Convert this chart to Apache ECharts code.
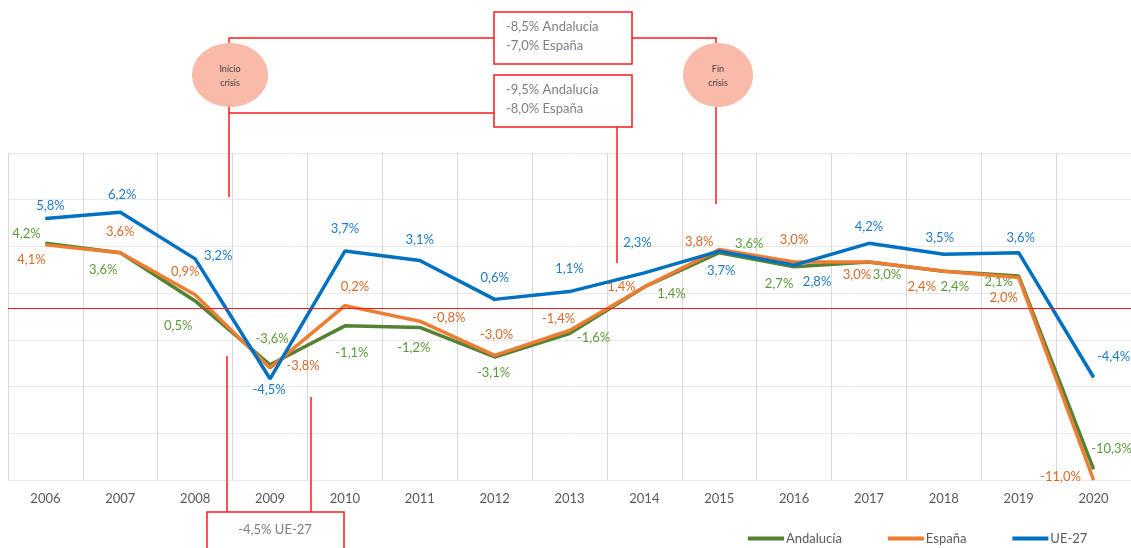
<!DOCTYPE html>
<html>
<head>
<meta charset="utf-8">
<script src="https://cdn.jsdelivr.net/npm/echarts@6/dist/echarts.min.js"></script>
<style>
html,body{margin:0;padding:0;background:#fff;}
#c{width:1131px;height:548px;}
</style>
</head>
<body>
<div id="c"></div>
<script>
// ---- data ----
const years = ['2006','2007','2008','2009','2010','2011','2012','2013','2014','2015','2016','2017','2018','2019','2020'];
const andalucia = [4.2, 3.6, 0.5, -3.6, -1.1, -1.2, -3.1, -1.6, 1.4, 3.6, 2.7, 3.0, 2.4, 2.1, -10.3];
const espana    = [4.1, 3.6, 0.9, -3.8, 0.2, -0.8, -3.0, -1.4, 1.4, 3.8, 3.0, 3.0, 2.4, 2.0, -11.0];
const ue27      = [5.8, 6.2, 3.2, -4.5, 3.7, 3.1, 0.6, 1.1, 2.3, 3.7, 2.8, 4.2, 3.5, 3.6, -4.4];
const seriesNames = ['Andalucía', 'España', 'UE-27'];

// ---- label placement (style only) ----
const offsets = {
  'UE-27': [[5,-13],[2,-17],[23,-3],[-1,11],[0,-22],[0,-21],[0,-22],[0,-23],[-7,-30],[2,20],[23,17],[0,-17],[-4,-16],[2,-15],[20,-20]],
  'España': [[-14,15],[0,-21],[-10,-23],[33,-2],[10,-19],[29,-3],[2,-21],[-11,-12],[-23,0],[-20,-8],[0,-22],[-12,13],[-22,15],[-15,20],[-33,-3]],
  'Andalucía': [[-19,-10],[-17,17],[-17,25],[2,-26],[7,27],[-6,20],[-1,16],[24,4],[27,7],[30,-9],[-15,17],[18,13],[11,15],[-20,6],[18,-20]]
};
const lineColors = {'Andalucía':'#548235','España':'#ED7D31','UE-27':'#0070C0'};
const labelColors = {'Andalucía':'#5E9A3A','España':'#D9692A','UE-27':'#1F7BC8'};
const FONT = 'Lato';
const RED = '#ff1a1a';

function fmt(v){ return v.toFixed(1).replace('.', ',') + '%'; }

function makeSeries(name, values, extra){
  const data = values.map((v, i) => ({
    value: v,
    label: { offset: offsets[name][i] }
  }));
  return Object.assign({
    name: name,
    type: 'line',
    data: data,
    yAxisIndex: 0,
    symbol: 'circle',
    symbolSize: 1,
    showSymbol: true,
    itemStyle: { color: lineColors[name] },
    lineStyle: { color: lineColors[name], width: 3.5 },
    label: {
      show: true,
      position: 'inside',
      color: labelColors[name],
      fontFamily: FONT,
      fontSize: 13,
      formatter: p => fmt(p.value)
    },
    emphasis: { disabled: true },
    animation: false
  }, extra || {});
}

const chart = echarts.init(document.getElementById('c'), null, {renderer: 'canvas'});

const grid = { left: 8, right: 0, top: 153, bottom: 68 };

function ellipse(cx, cy, rx, ry){
  return { type: 'ellipse', shape: { cx: cx, cy: cy, rx: rx, ry: ry }, style: { fill: '#F9BAAA' }, z: 100, silent: true };
}
function poly(points){
  return { type: 'polyline', shape: { points: points }, style: { stroke: RED, lineWidth: 1.5, fill: null }, z: 100, silent: true };
}
function box(x, y, w, h){
  return { type: 'rect', shape: { x: x, y: y, width: w, height: h }, style: { fill: '#ffffff', stroke: RED, lineWidth: 1.5 }, z: 101, silent: true };
}
function txt(x, y, s, size, color, align){
  return { type: 'text', x: x, y: y, style: { text: s, fill: color, font: size + 'px ' + FONT, textAlign: align || 'left', textVerticalAlign: 'middle' }, z: 102, silent: true };
}

const option = {
  backgroundColor: '#ffffff',
  animation: false,
  grid: grid,
  xAxis: {
    type: 'category',
    data: years,
    boundaryGap: true,
    axisLine: { show: false },
    axisTick: { show: false },
    axisLabel: { color: '#595959', fontFamily: FONT, fontSize: 13, margin: 12 },
    splitLine: { show: true, interval: 0, lineStyle: { color: '#d9d9d9', width: 1 } }
  },
  yAxis: [
    { type: 'value', min: -11, max: 10, show: false, splitLine: { show: false } },
    { type: 'value', min: 0, max: 21, interval: 3, position: 'left',
      axisLine: { show: false }, axisTick: { show: false }, axisLabel: { show: false },
      splitLine: { show: true, lineStyle: { color: '#e9e9e9', width: 1 } } }
  ],
  legend: {
    left: 748,
    top: 532,
    padding: 0,
    itemWidth: 36,
    itemHeight: 4,
    itemGap: 46,
    icon: 'rect',
    textStyle: { color: '#595959', fontFamily: FONT, fontSize: 13, padding: [0,0,0,-3] },
    data: seriesNames
  },
  series: [
    makeSeries('Andalucía', andalucia, {
      z: 2,
      markLine: {
        silent: true,
        symbol: 'none',
        label: { show: false },
        lineStyle: { color: RED, width: 1.2, type: 'solid' },
        data: [{ yAxis: 0 }],
        animation: false
      }
    }),
    makeSeries('España', espana, { z: 3 }),
    makeSeries('UE-27', ue27, { z: 4 })
  ],
  graphic: [
    // connectors
    poly([[229,43],[229,38],[494,38]]),
    poly([[632,38],[716,38],[716,43]]),
    poly([[229,107],[229,197]]),
    poly([[229,113],[494,113]]),
    poly([[716,107],[716,204]]),
    poly([[617,127],[617,263]]),
    poly([[227,356],[227,512]]),
    poly([[311,397],[311,512]]),
    // circles
    ellipse(230, 75, 38, 32),
    ellipse(718, 75, 35, 32),
    txt(230, 69, 'Inicio', 9, '#3f3f3f', 'center'),
    txt(230, 83, 'crisis', 9, '#3f3f3f', 'center'),
    txt(718, 69, 'Fin', 9, '#3f3f3f', 'center'),
    txt(718, 83, 'crisis', 9, '#3f3f3f', 'center'),
    // boxes
    box(494, 12, 138, 52),
    txt(506, 27, '-8,5% Andalucía', 13, '#7f7f7f'),
    txt(506, 46, '-7,0% España', 13, '#7f7f7f'),
    box(494, 75, 138, 52),
    txt(506, 90, '-9,5% Andalucía', 13, '#7f7f7f'),
    txt(506, 109, '-8,0% España', 13, '#7f7f7f'),
    box(207, 512, 137, 40),
    txt(275, 530, '-4,5% UE-27', 13, '#7f7f7f', 'center')
  ]
};

chart.setOption(option);
</script>
</body>
</html>
